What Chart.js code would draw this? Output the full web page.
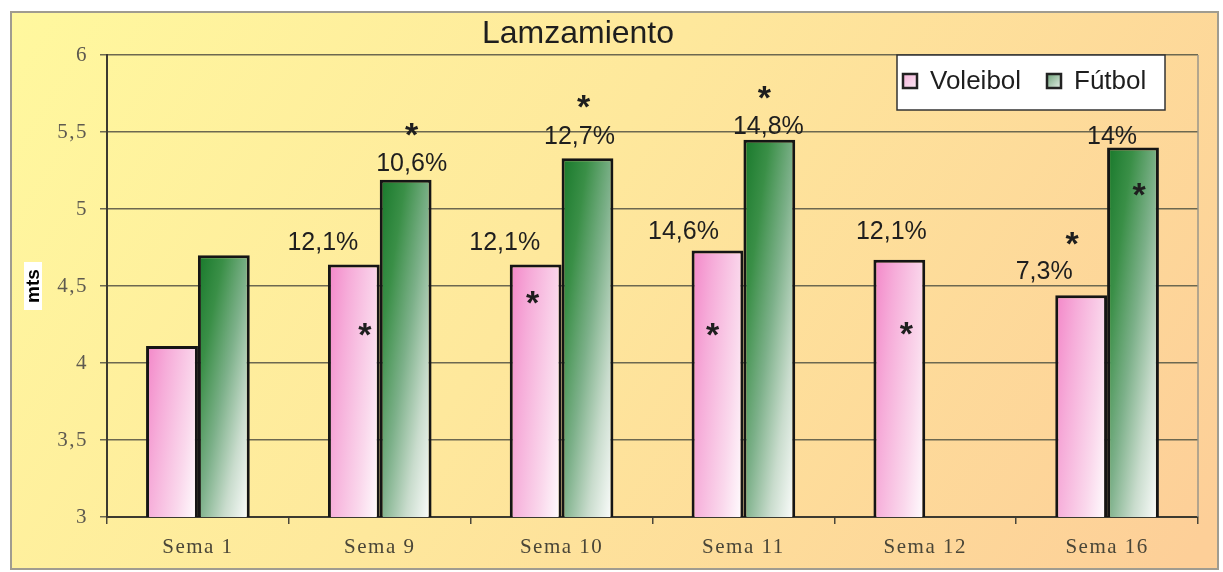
<!DOCTYPE html>
<html>
<head>
<meta charset="utf-8">
<title>Lamzamiento</title>
<script src="https://cdn.jsdelivr.net/npm/chart.js@4/dist/chart.umd.min.js"></script>
<style>
    html, body { margin: 0; padding: 0; background: #ffffff; }
    #wrap { width: 1223px; height: 572px; }
</style>
</head>
<body>
<div id="wrap"><canvas id="lanzChart" width="1223" height="572"></canvas></div>
<script>
// Chart data
const categories = ['Sema 1', 'Sema 9', 'Sema 10', 'Sema 11', 'Sema 12', 'Sema 16'];
const voleibol = [4.11, 4.64, 4.64, 4.73, 4.67, 4.44];
const futbol = [4.70, 5.19, 5.33, 5.45, null, 5.40];
const yTicks = [3, 3.5, 4, 4.5, 5, 5.5, 6];

// percentage labels and where they sit (in mts)
const voleibolPct = [null, '12,1%', '12,1%', '14,6%', '12,1%', '7,3%'];
const futbolPct = [null, '10,6%', '12,7%', '14,8%', null, '14%'];
const voleibolPctAt = [null, 4.78, 4.78, 4.85, 4.85, 4.59];
const futbolPctAt = [null, 5.29, 5.47, 5.53, null, 5.47];
// significance stars (in mts)
const voleibolStar = [null, 4.23, 4.44, 4.23, 4.24, 4.82];
const futbolStar = [null, 5.53, 5.71, 5.77, null, 5.14];

// horizontal nudges of the labels, px from bar centre
const nudges = {
    vPct: [0, -31, -31, -34, -8, -37],
    fPct: [0, 6, -8, -1, 0, -21],
    vStar: [0, 11, -3, -5, 7, -9],
    fStar: [0, 6, -4, -5, 0, 6]
};

const CAT_PCT = 0.57;

function barBox(chart, datasetIndex, dataIndex, value) {
    const xs = chart.scales.x;
    const ys = chart.scales.y;
    const catW = xs.width / categories.length;
    const barW = catW * CAT_PCT / 2;
    const center = xs.getPixelForValue(dataIndex);
    const left = datasetIndex === 0 ? center - barW : center;
    return {
        left: left,
        right: left + barW,
        top: ys.getPixelForValue(value),
        bottom: ys.getPixelForValue(ys.min),
        cx: left + barW / 2
    };
}

// gradient running from top-left to bottom-right of the bar, weighted by wu/wv
function barGradient(ctx, stops, wu, wv) {
    const chart = ctx.chart;
    if (!chart.chartArea || !chart.scales.x || !chart.scales.y || ctx.raw == null) return stops[0][1];
    const b = barBox(chart, ctx.datasetIndex, ctx.dataIndex, ctx.raw);
    const W = Math.max(1, b.right - b.left);
    const H = Math.max(1, b.bottom - b.top);
    const nx = wu / W, ny = wv / H;
    const n2 = nx * nx + ny * ny;
    const g = chart.ctx.createLinearGradient(b.left, b.top, b.left + nx / n2, b.top + ny / n2);
    stops.forEach(s => g.addColorStop(s[0], s[1]));
    return g;
}

const pinkStops = [[0, '#f386c8'], [0.3, '#f6acd9'], [0.7, '#fad8ec'], [1, '#ffffff']];
const greenStops = [[0, '#17782a'], [0.25, '#3a8f47'], [0.5, '#7cb089'], [0.75, '#c9dccd'], [1, '#ffffff']];

const decor = {
    id: 'decor',
    beforeDraw(chart) {
        const c = chart.ctx;
        c.save();
        c.fillStyle = '#ffffff';
        c.fillRect(0, 0, chart.width, chart.height);
        const g = c.createLinearGradient(11, 12, 1100, 700);
        g.addColorStop(0, '#fff89e');
        g.addColorStop(0.45, '#fee89c');
        g.addColorStop(1, '#fdcf98');
        c.fillStyle = g;
        c.fillRect(11, 12, 1207, 557);
        c.strokeStyle = '#a09c90';
        c.lineWidth = 2;
        c.strokeRect(11, 12, 1207, 557);
        c.restore();
        // spaced-out axis labels, like the original
        c.letterSpacing = '1.5px';
    },
    beforeDatasetsDraw(chart) {
        const a = chart.chartArea;
        const c = chart.ctx;
        c.letterSpacing = '0px';
        c.save();
        c.strokeStyle = '#9a968a';
        c.lineWidth = 1.5;
        c.beginPath();
        c.moveTo(a.right, a.top);
        c.lineTo(a.right, a.bottom);
        c.stroke();
        c.restore();
    },
    afterDatasetsDraw(chart) {
        const c = chart.ctx;
        const ys = chart.scales.y;
        c.save();
        c.fillStyle = '#1e1e1e';
        c.textAlign = 'center';

        const drawPct = (texts, at, nudge, ds, vals) => {
            c.font = '25px "Liberation Sans", Arial, sans-serif';
            c.textBaseline = 'middle';
            texts.forEach((t, i) => {
                if (!t) return;
                const b = barBox(chart, ds, i, vals[i]);
                c.fillText(t, b.cx + nudge[i], ys.getPixelForValue(at[i]));
            });
        };
        const drawStar = (stars, nudge, ds, vals) => {
            const size = 34;
            c.font = 'bold ' + size + 'px "Liberation Sans", Arial, sans-serif';
            c.textBaseline = 'alphabetic';
            stars.forEach((s, i) => {
                if (s == null) return;
                const b = barBox(chart, ds, i, vals[i]);
                c.fillText('*', b.cx + nudge[i], ys.getPixelForValue(s) + size * 0.55);
            });
        };

        drawPct(voleibolPct, voleibolPctAt, nudges.vPct, 0, voleibol);
        drawPct(futbolPct, futbolPctAt, nudges.fPct, 1, futbol);
        drawStar(voleibolStar, nudges.vStar, 0, voleibol);
        drawStar(futbolStar, nudges.fStar, 1, futbol);
        c.restore();
    },
    afterDraw(chart) {
        const c = chart.ctx;
        c.save();
        // title
        c.fillStyle = '#1e1e1e';
        c.font = '32px "Liberation Sans", Arial, sans-serif';
        c.textAlign = 'center';
        c.textBaseline = 'middle';
        c.fillText('Lamzamiento', 578, 34);

        // legend box
        c.fillStyle = '#ffffff';
        c.fillRect(897, 55, 268, 55);
        c.strokeStyle = '#333333';
        c.lineWidth = 1.5;
        c.strokeRect(897, 55, 268, 55);

        const items = [
            { label: 'Voleibol', stops: [[0, '#f2b0d8'], [1, '#fbe8f3']], x: 903 },
            { label: 'Fútbol', stops: [[0, '#6ea37a'], [1, '#e4eee6']], x: 1047 }
        ];
        items.forEach(it => {
            const g = c.createLinearGradient(it.x, 74, it.x + 14, 88);
            it.stops.forEach(s => g.addColorStop(s[0], s[1]));
            c.fillStyle = g;
            c.fillRect(it.x, 74, 14, 14);
            c.strokeStyle = '#222222';
            c.lineWidth = 2.5;
            c.strokeRect(it.x, 74, 14, 14);
            c.fillStyle = '#1e1e1e';
            c.font = '26px "Liberation Sans", Arial, sans-serif';
            c.textAlign = 'left';
            c.textBaseline = 'middle';
            c.fillText(it.label, it.x + 27, 82);
        });

        // y axis title
        c.translate(33, 286);
        c.rotate(-Math.PI / 2);
        c.fillStyle = '#ffffff';
        c.fillRect(-24, -9, 48, 18);
        c.fillStyle = '#000000';
        c.font = 'bold 19px "Liberation Sans", Arial, sans-serif';
        c.textAlign = 'center';
        c.textBaseline = 'middle';
        c.fillText('mts', 0, 1);
        c.restore();
    }
};

function formatTick(v) {
    return String(v).replace('.', ',');
}

const ctx = document.getElementById('lanzChart').getContext('2d');
new Chart(ctx, {
    type: 'bar',
    data: {
        labels: categories,
        datasets: [
            {
                label: 'Voleibol',
                data: voleibol,
                backgroundColor: c => barGradient(c, pinkStops, 0.7, 0.3),
                borderColor: '#151515',
                borderWidth: 3,
                barPercentage: 1,
                categoryPercentage: CAT_PCT
            },
            {
                label: 'Fútbol',
                data: futbol,
                backgroundColor: c => barGradient(c, greenStops, 0.5, 0.5),
                borderColor: '#151515',
                borderWidth: 3,
                barPercentage: 1,
                categoryPercentage: CAT_PCT
            }
        ]
    },
    options: {
        responsive: false,
        animation: false,
        layout: { padding: { top: 55, right: 25, left: 0, bottom: 0 } },
        plugins: {
            legend: { display: false },
            title: { display: false },
            tooltip: { enabled: false }
        },
        scales: {
            x: {
                offset: true,
                grid: {
                    offset: true,
                    drawOnChartArea: false,
                    drawTicks: true,
                    tickLength: 7,
                    color: '#4a463a',
                    lineWidth: 1.5
                },
                border: { color: '#3c3a30', width: 2 },
                ticks: {
                    color: '#4a4638',
                    font: { family: '"Liberation Serif", "Times New Roman", serif', size: 21 },
                    padding: 11
                },
                afterFit: scale => { scale.height = 55; }
            },
            y: {
                min: 3,
                max: 6,
                afterBuildTicks: scale => { scale.ticks = yTicks.map(v => ({ value: v })); },
                grid: {
                    color: '#6c6850',
                    lineWidth: 1.5,
                    drawTicks: true,
                    tickLength: 7
                },
                border: { color: '#3c3a30', width: 2 },
                ticks: {
                    color: '#5e5a50',
                    font: { family: '"Liberation Serif", "Times New Roman", serif', size: 21 },
                    padding: 12,
                    callback: v => formatTick(v)
                },
                afterFit: scale => { scale.width = 107; }
            }
        }
    },
    plugins: [decor]
});
</script>
</body>
</html>
